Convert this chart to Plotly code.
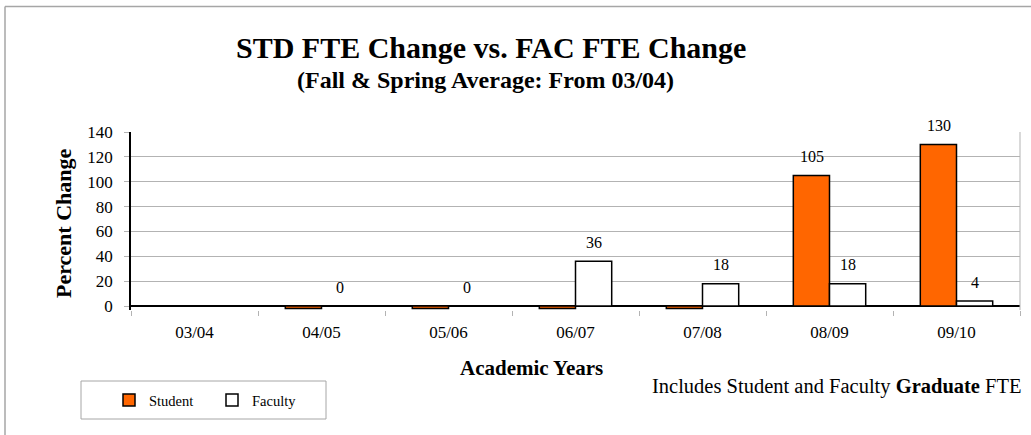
import plotly.graph_objects as go

# ---- data ----
years = ["03/04", "04/05", "05/06", "06/07", "07/08", "08/09", "09/10"]
student = [0, -2, -2, -2, -2, 105, 130]
faculty = [0, 0, 0, 36, 18, 18, 4]
student_labels = ["", "", "", "", "", "105", "130"]
faculty_labels = ["", "0", "0", "36", "18", "18", "4"]
y_ticks = [0, 20, 40, 60, 80, 100, 120, 140]

# ---- layout geometry (pixels) ----
W, H = 1031, 435
L, R, T, B = 131, 1020, 132, 310
Y_MAX = 140
ZERO_PX = 306
scale = (ZERO_PX - T) / Y_MAX
Y_MIN = -(B - ZERO_PX) / scale

def px_x(p):
    return (p - L) / (R - L)

def px_y(p):
    return (B - p) / (B - T)

FONT = "Liberation Serif, Times New Roman, serif"
GRID = "#b3b3b3"
BAR_HALF = 18

fig = go.Figure()
fig.add_trace(go.Bar(
    x=years, y=student, name="Student",
    marker=dict(color="#FF6600", line=dict(color="black", width=1.5)),
))
fig.add_trace(go.Bar(
    x=years, y=faculty, name="Faculty",
    marker=dict(color="white", line=dict(color="black", width=1.5)),
))

annotations = []
for yr, v, lab in zip(years, student, student_labels):
    if lab:
        annotations.append(dict(x=yr, y=v, text=lab, showarrow=False, xshift=-BAR_HALF,
                                yshift=19, xanchor="center", yanchor="middle",
                                font=dict(family=FONT, size=16, color="black")))
for yr, v, lab in zip(years, faculty, faculty_labels):
    if lab:
        annotations.append(dict(x=yr, y=max(v, 0), text=lab, showarrow=False, xshift=BAR_HALF,
                                yshift=19, xanchor="center", yanchor="middle",
                                font=dict(family=FONT, size=16, color="black")))

def note(x, y, text, size, xanchor="center", angle=0):
    return dict(xref="paper", yref="paper", x=px_x(x), y=px_y(y), text=text, textangle=angle,
                xanchor=xanchor, yanchor="middle", showarrow=False,
                font=dict(family=FONT, size=size, color="black"))

annotations += [
    note(491, 47, "<b>STD FTE Change vs. FAC FTE Change</b>", 30),
    note(485, 80, "<b>(Fall &amp; Spring Average: From 03/04)</b>", 24),
    note(63, 223, "<b>Percent Change</b>", 22, angle=-90),
    note(531, 368, "<b>Academic Years</b>", 21),
    note(1024, 386, "Includes Student and Faculty <b>Graduate</b> FTE", 20.5, xanchor="right"),
]

shapes = [
    # outer chart frame (top and left edges)
    dict(type="line", xref="paper", yref="paper", x0=px_x(5), x1=px_x(W + 5), y0=px_y(6.5), y1=px_y(6.5),
         line=dict(color="#a6a6a6", width=1.5)),
    dict(type="line", xref="paper", yref="paper", x0=px_x(5), x1=px_x(5), y0=px_y(6.5), y1=px_y(H + 5),
         line=dict(color="#a6a6a6", width=1.5)),
    # right plot border
    dict(type="line", xref="paper", yref="paper", x0=1, x1=1, y0=0, y1=1,
         line=dict(color=GRID, width=1)),
    # legend box
    dict(type="rect", xref="paper", yref="paper", x0=px_x(81), x1=px_x(326), y0=px_y(381), y1=px_y(419),
         line=dict(color="#a6a6a6", width=1), fillcolor="rgba(0,0,0,0)"),
]

fig.update_layout(
    width=W, height=H,
    margin=dict(l=L, r=W - R, t=T, b=H - B, pad=0),
    paper_bgcolor="white", plot_bgcolor="white",
    barmode="group", bargap=0.43, bargroupgap=0,
    font=dict(family=FONT, size=14, color="black"),
    showlegend=True,
    legend=dict(orientation="h", x=px_x(109), y=px_y(384), xanchor="left", yanchor="top",
                font=dict(family=FONT, size=14.5, color="black"),
                entrywidth=58, entrywidthmode="pixels", bgcolor="rgba(0,0,0,0)", borderwidth=0),
    xaxis=dict(showline=False, ticks="outside", tickson="boundaries", ticklen=5, tickcolor=GRID,
               showgrid=False, tickfont=dict(family=FONT, size=17), ticklabelstandoff=10,
               fixedrange=True),
    yaxis=dict(range=[Y_MIN, Y_MAX], tickvals=y_ticks, showline=True, linecolor="black", linewidth=1.5,
               ticks="outside", ticklen=5, tickcolor=GRID, showgrid=True, gridcolor=GRID, gridwidth=1,
               zeroline=True, zerolinecolor="black", zerolinewidth=1.5, ticklabelstandoff=8,
               tickfont=dict(family=FONT, size=17)),
    annotations=annotations,
    shapes=shapes,
)

fig.write_html("out.html", config={"displayModeBar": False},
               post_script="document.body.style.margin='0';")
